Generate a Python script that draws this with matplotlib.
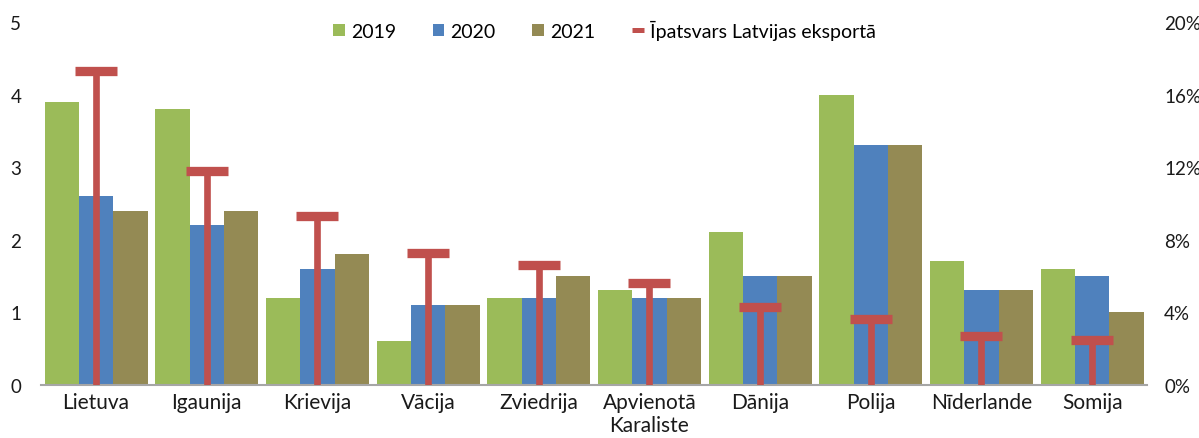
import numpy as np
import matplotlib.pyplot as plt
from matplotlib.ticker import FuncFormatter

plt.rcParams['font.family'] = ['Lato', 'DejaVu Sans']

countries = ['Lietuva', 'Igaunija', 'Krievija', 'Vācija', 'Zviedrija',
             'Apvienotā\nKaraliste', 'Dānija', 'Polija', 'Nīderlande', 'Somija']
v2019 = [3.9, 3.8, 1.2, 0.6, 1.2, 1.3, 2.1, 4.0, 1.7, 1.6]
v2020 = [2.6, 2.2, 1.6, 1.1, 1.2, 1.2, 1.5, 3.3, 1.3, 1.5]
v2021 = [2.4, 2.4, 1.8, 1.1, 1.5, 1.2, 1.5, 3.3, 1.3, 1.0]
share = [17.3, 11.8, 9.3, 7.25, 6.6, 5.6, 4.3, 3.65, 2.7, 2.45]

c19, c20, c21, cred = '#9BBB59', '#4F81BD', '#948A54', '#C0504D'

fig = plt.figure(figsize=(11.99, 4.39), dpi=100)
ax = fig.add_axes([0.034, 0.1214, 0.923, 0.8262])
ax2 = ax.twinx()

x = np.arange(len(countries))
w = 0.31
ax.bar(x - w, v2019, w, color=c19, label='2019')
ax.bar(x, v2020, w, color=c20, label='2020')
ax.bar(x + w, v2021, w, color=c21, label='2021')

# share of exports: stem + cap
ax2.vlines(x, 0, share, color=cred, lw=4.8)
line, = ax2.plot(x, share, ls='none', marker='_', ms=30, mew=6.7, color=cred,
                 label='Īpatsvars Latvijas eksportā')

ax.set_xlim(-0.5, len(countries) - 0.5)
ax.set_ylim(0, 5)
ax2.set_ylim(0, 20)
ax.set_yticks(range(6))
ax2.set_yticks(range(0, 21, 4))
ax2.yaxis.set_major_formatter(FuncFormatter(lambda v, p: f'{v:.0f}%'))
ax.set_xticks(x)
ax.set_xticklabels(countries)

for a in (ax, ax2):
    for s in ('top', 'left', 'right', 'bottom'):
        a.spines[s].set_visible(False)
    a.tick_params(length=0, labelsize=13.5, colors='#1a1a1a')
ax.spines['bottom'].set_visible(True)
ax.spines['bottom'].set_color('#a6a6a6')
ax.spines['bottom'].set_linewidth(1.5)
ax.tick_params(axis='y', pad=14)
ax2.tick_params(axis='y', pad=12)
ax.tick_params(axis='x', pad=5, labelsize=15)

h, l = ax.get_legend_handles_labels()
leg = fig.legend(h + [line], l + [line.get_label()], loc='center',
                 bbox_to_anchor=(0.504, 0.93), ncol=4, frameon=False, fontsize=14,
                 handlelength=0.6, handleheight=0.6, columnspacing=1.9,
                 handletextpad=0.3, markerscale=0.3)
for lh in leg.legend_handles[3:]:
    lh.set_markeredgewidth(3.6)

fig.savefig('out.png', dpi=100)
